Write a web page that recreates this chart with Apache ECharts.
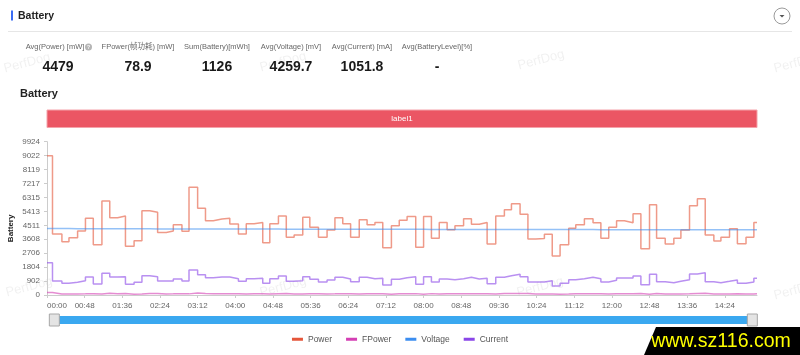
<!DOCTYPE html>
<html><head><meta charset="utf-8">
<script src="https://cdn.jsdelivr.net/npm/echarts@6/dist/echarts.min.js"></script>
<style>html,body{margin:0;padding:0;background:#fff;}#c{width:800px;height:355px;}</style>
</head><body><div id="c"></div>
<script>
// ---- data (seconds since start of each sample step) ----
const times = [0,7,19,28,39,49,59,70,80,90,
  100,111,121,131,141,152,161,172,181,192,
  202,212,223,233,244,254,264,275,284,295,
  305,315,326,335,346,357,367,377,387,398,
  408,418,428,439,449,459,470,480,490,500,
  510,520,531,541,551,561,572,583,592,603,
  613,623,634,644,654,665,674,685,696,706,
  716,726,736,747,757,768,777,788,799,808,
  819,829,839,850,859,870,880,891,901,905];
const power = [9022,3948,3452,3711,4142,4962,3258,6084,5000,5113,
  3150,3517,5458,5351,4050,4142,4550,4120,6969,5610,
  4811,4920,4962,4600,3948,4617,4700,3387,4617,5113,
  3732,3880,5028,4380,3732,4200,5000,4617,3732,4876,
  4550,4700,3065,4480,4840,5080,3085,5080,3667,4700,
  4228,4487,4941,4574,4700,3300,5113,5523,5911,5221,
  3624,3650,3926,2523,3258,4315,4550,4941,4682,3668,
  4380,4811,4682,5264,3000,5846,3667,3300,3668,4200,
  5782,6235,3880,3495,3732,4293,3322,3732,4700,4700];
const fpower = [159,69,61,65,73,87,57,107,88,90,
  55,62,96,94,71,73,80,73,123,99,
  85,87,87,81,69,81,83,60,81,90,
  66,68,88,77,66,74,88,81,66,86,
  80,83,54,79,85,89,54,89,65,83,
  74,79,87,81,83,58,90,97,104,92,
  64,64,69,44,57,76,80,87,82,65,
  77,85,82,93,53,103,65,58,65,74,
  102,110,68,62,66,76,58,66,83,83];
const voltage = [4305,4301,4298,4296,4294,4292,4290,4289,4287,4286,
  4284,4283,4282,4280,4279,4278,4277,4276,4275,4274,
  4273,4272,4271,4270,4269,4268,4267,4266,4265,4264,
  4263,4262,4261,4260,4259,4258,4258,4257,4256,4255,
  4254,4253,4252,4252,4251,4250,4249,4248,4247,4247,
  4246,4245,4244,4243,4243,4242,4241,4240,4239,4239,
  4238,4237,4236,4236,4235,4234,4233,4233,4232,4231,
  4230,4230,4229,4228,4228,4227,4226,4225,4225,4224,
  4223,4223,4222,4221,4221,4220,4219,4219,4218,4218];
const current = [2093,906,755,820,928,1165,712,1402,1165,1187,
  690,820,1251,1187,906,906,1036,906,1618,1316,
  1122,1165,1165,1057,885,1057,1079,755,1057,1230,
  885,928,1187,1014,841,971,1144,1036,863,1144,
  1057,1079,647,1014,1122,1187,690,1187,841,1036,
  992,1057,1144,1036,1079,733,1144,1251,1337,1187,
  841,841,928,582,755,992,1057,1144,1057,841,
  949,1100,1100,1230,669,1337,863,798,885,992,
  1359,1445,863,798,885,971,755,841,1079,1079];
const seriesNames = ['Power','FPower','Voltage','Current'];
const statLabels = ['Avg(Power) [mW]','FPower(帧功耗) [mW]','Sum(Battery)[mWh]','Avg(Voltage) [mV]','Avg(Current) [mA]','Avg(BatteryLevel)[%]'];
const statValues = ['4479','78.9','1126','4259.7','1051.8','-'];
const bandLabel = 'label1';
const xMaxSec = 905, xStepSec = 48;
const yMax = 9924.2, yStep = 902.2;

// ---- styling ----
const FONT = '"Liberation Sans","Noto Sans CJK SC",sans-serif';
const solid = ['#e5563a','#d43fb4','#3c8ef0','#8a46e8'];
const light = ['rgba(229,86,58,0.6)','rgba(212,63,180,0.6)','rgba(60,142,240,0.55)','rgba(138,70,232,0.6)'];
const pad = n => (n < 10 ? '0' : '') + n;
const fmtTime = v => pad(Math.floor(v / 60)) + ':' + pad(Math.round(v % 60));

const seriesData = [power, fpower, voltage, current];
const lineSeries = seriesNames.map((name, k) => ({
  name, type: 'line', step: 'end', symbol: 'none', xAxisIndex: 0, yAxisIndex: 0,
  itemStyle: {color: solid[k]},
  lineStyle: {color: light[k], width: 1.5},
  data: times.map((t, i) => [t, seriesData[k][i]])
}));

const g = [];
const txt = (x, y, text, font, fill, extra) => Object.assign({type:'text', x, y, silent:true,
  style:{text, font, fill, align:'center', verticalAlign:'middle', textAlign:'center', textVerticalAlign:'middle'}}, extra || {});
// watermarks
[[27,63],[283,62],[541,60],[797,63],[29,287],[283,287],[540,287],[797,290]].forEach(p =>
  g.push(txt(p[0], p[1], 'PerfDog', '13px ' + FONT, 'rgba(0,0,0,0.06)', {rotation: 0.26, z: 0})));
// header
g.push({type:'rect', shape:{x:11, y:10.5, width:2, height:10}, style:{fill:'#3a6cf4'}, silent:true});
g.push({type:'text', x:18, y:16, silent:true, style:{text:'Battery', font:'bold 10.5px ' + FONT, fill:'#222', verticalAlign:'middle', textVerticalAlign:'middle'}});
g.push({type:'line', shape:{x1:8, y1:31.5, x2:792, y2:31.5}, style:{stroke:'#e6e6e6', lineWidth:1}, silent:true});
g.push({type:'circle', shape:{cx:782, cy:16, r:8}, style:{fill:'#fff', stroke:'#9a9a9a', lineWidth:1}, silent:true});
g.push({type:'polygon', shape:{points:[[779.5,15],[784.5,15],[782,17.5]]}, style:{fill:'#555'}, silent:true});
// stats
const statX = [55,138,217,291,362,437];
const valX = [58,138,217,291,362,437];
statLabels.forEach((s, i) => g.push(txt(statX[i], 47, s, '7.5px ' + FONT, '#666')));
statValues.forEach((s, i) => g.push(txt(valX[i], 67, s, 'bold 14px ' + FONT, '#1a1a1a')));
g.push({type:'circle', shape:{cx:88.5, cy:47, r:3.5}, style:{fill:'#b5b5b5'}, silent:true});
g.push(txt(88.5, 47.3, '?', 'bold 5px ' + FONT, '#fff'));
// site banner
g.push({type:'polygon', shape:{points:[[656,327],[800,327],[800,355],[644,355]], smooth:0}, style:{fill:'#000'}, silent:true, z:100});
g.push(txt(721, 341, 'www.sz116.com', '21px ' + FONT, '#ffff00', {z:101, scaleX:0.93}));

const option = {
  animation: false,
  textStyle: {fontFamily: FONT},
  title: {text: 'Battery', left: 20, top: 88, padding: 0, textStyle: {fontSize: 11, fontWeight: 'bold', color: '#222', fontFamily: FONT}},
  grid: [
    {left: 47, right: 43, top: 141.7, bottom: 60, outerBoundsMode: 'none', containLabel: false},
    {left: 47, right: 43, top: 110, height: 17.5, outerBoundsMode: 'none', containLabel: false}
  ],
  legend: {data: seriesNames, left: 'center', top: 330, icon: 'rect', itemWidth: 11, itemHeight: 3, itemGap: 14,
    textStyle: {fontSize: 8.5, color: '#555'}},
  xAxis: [
    {type: 'value', gridIndex: 0, min: 0, max: xMaxSec, interval: xStepSec,
      axisLine: {lineStyle: {color: '#ccc'}}, axisTick: {length: 3, lineStyle: {color: '#ccc'}},
      splitLine: {show: false},
      axisLabel: {fontSize: 8, color: '#666', margin: 7, formatter: fmtTime, showMaxLabel: false, alignMinLabel: 'left'}},
    {type: 'value', gridIndex: 1, min: 0, max: xMaxSec, show: false}
  ],
  yAxis: [
    {type: 'value', gridIndex: 0, min: 0, max: yMax, interval: yStep,
      name: 'Battery', nameLocation: 'middle', nameGap: 32, nameMoveOverlap: false,
      nameTextStyle: {fontSize: 8, fontWeight: 'bold', color: '#222', padding: [0, 20, 0, 0]},
      axisLine: {show: true, lineStyle: {color: '#ccc'}}, axisTick: {show: true, length: 3, lineStyle: {color: '#ccc'}},
      splitLine: {show: false},
      axisLabel: {fontSize: 8, color: '#666', margin: 7, formatter: v => String(Math.floor(v + 1e-6))}},
    {type: 'value', gridIndex: 1, min: 0, max: 1, show: false}
  ],
  dataZoom: [{type: 'slider', xAxisIndex: 0, filterMode: 'none', start: 0, end: 100,
    left: 52, right: 48, bottom: 31, height: 8,
    showDetail: false, showDataShadow: false, brushSelect: false, moveHandleSize: 0,
    borderColor: 'transparent', backgroundColor: '#3aa8f0', fillerColor: '#3aa8f0',
    handleIcon: 'path://M0,0H10V12H0Z', handleSize: 12,
    handleStyle: {color: '#e4e4e4', borderColor: '#a8a8a8', borderWidth: 1}}],
  series: lineSeries.concat([{
    name: 'band', type: 'line', xAxisIndex: 1, yAxisIndex: 1, symbol: 'none', silent: true,
    lineStyle: {opacity: 0}, data: [[0, 0.5]],
    markArea: {silent: true,
      itemStyle: {color: '#eb5664', borderColor: '#f4a3aa', borderWidth: 1},
      label: {show: true, position: 'inside', color: '#fff', fontSize: 8},
      data: [[{name: bandLabel, xAxis: 0}, {xAxis: xMaxSec}]]}
  }]),
  graphic: {elements: g}
};
echarts.init(document.getElementById('c')).setOption(option);
</script></body></html>
